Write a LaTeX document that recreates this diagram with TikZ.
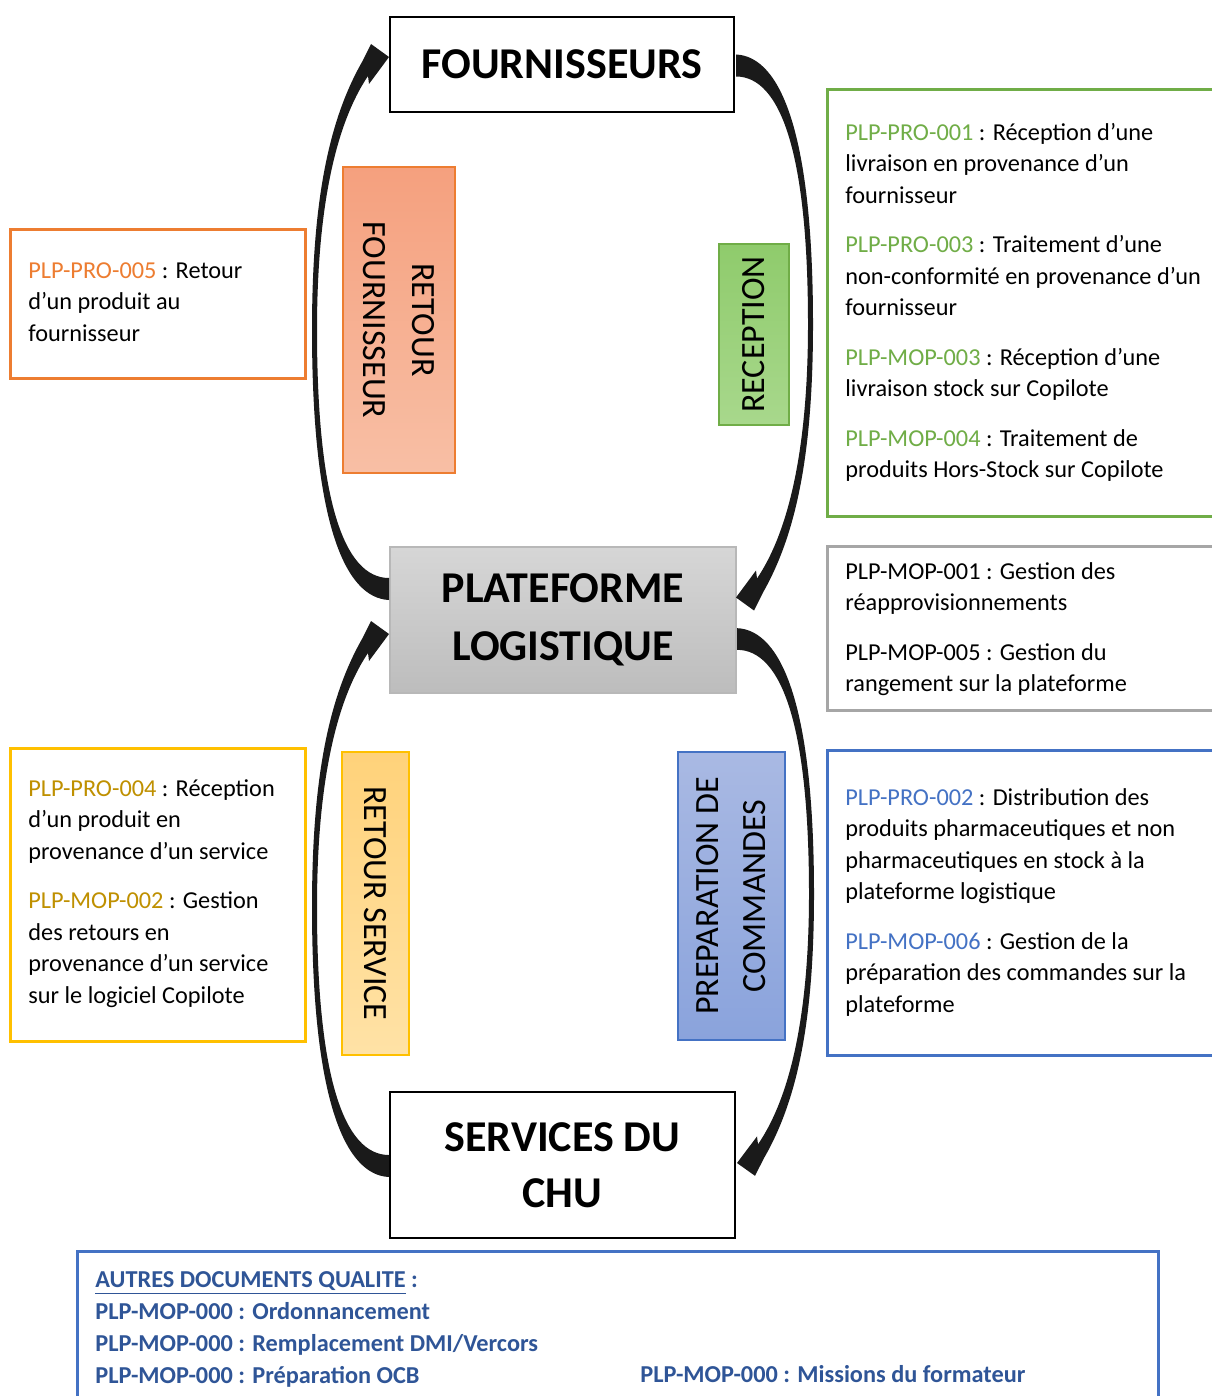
\documentclass[tikz,border=0pt]{standalone}
\usepackage{fontspec}
\setmainfont{Carlito}
\usetikzlibrary{calc}
\definecolor{cor}{HTML}{ED7D31}
\definecolor{cgr}{HTML}{70AD47}
\definecolor{cgy}{HTML}{A6A6A6}
\definecolor{cbl}{HTML}{4472C4}
\definecolor{cye}{HTML}{FFC000}
\definecolor{cyet}{HTML}{BF9000}
\definecolor{cdb}{HTML}{2F5597}
\definecolor{carrow}{HTML}{1A1A1A}
\definecolor{fora}{HTML}{F5A07E}
\definecolor{forb}{HTML}{F8BFA5}
\definecolor{fgra}{HTML}{8FCB6C}
\definecolor{fgrb}{HTML}{A8D88C}
\definecolor{fyea}{HTML}{FFD27A}
\definecolor{fyeb}{HTML}{FFE2A6}
\definecolor{fbla}{HTML}{A9B9E3}
\definecolor{fblb}{HTML}{8AA3DC}
\begin{document}
\begin{tikzpicture}[x=0.5pt,y=-0.5pt,
  box/.style={draw, rectangle, inner sep=0pt},
  titletxt/.style={font=\fontsize{22}{29}\selectfont\bfseries, align=center},
  vlab/.style={font=\fontsize{17}{24.5}\selectfont, align=center, inner sep=0pt},
  doc/.style={font=\fontsize{12.15}{15.75}\selectfont, align=left, anchor=north west, inner sep=0pt},
  docb/.style={font=\fontsize{12.15}{15.9}\selectfont\bfseries, text=cdb, align=left, inner sep=0pt},
  arrowfill/.style={fill=carrow},
  curvarrow/.pic={\fill[arrowfill] (0,10) .. controls (-45,8) and (-77,-70) .. (-77,-260)
     .. controls (-77,-390) and (-60,-470) .. (-27,-528) -- (-18,-546) -- (0,-533) -- (-20,-506) -- (-21,-514)
     .. controls (-54,-465) and (-72,-380) .. (-72,-260)
     .. controls (-72,-90) and (-45,-12) .. (0,-12) -- cycle;}
]
\useasboundingbox (0,0) rectangle (1211,1396);
\fill[white] (0,0) rectangle (1211,1396);

% main boxes
\node[box, line width=1pt, fill=white, minimum width=172pt, minimum height=47.5pt, titletxt] (fourn) at (562,64.5) {FOURNISSEURS};
\node[box, draw=cgy!80, line width=1pt, top color=black!16, bottom color=black!26, minimum width=173pt, minimum height=73pt, titletxt] (plat) at (563,620) {PLATEFORME\\LOGISTIQUE};
\node[box, line width=1pt, fill=white, minimum width=172.5pt, minimum height=73pt, titletxt, font=\fontsize{22}{28}\selectfont\bfseries] (serv) at (562.5,1165) {SERVICES DU\\CHU};

% arrows
\pic at ($(plat.west)+(0,-30)$) {curvarrow};
\pic at ($(serv.west)+(0,2)$) {curvarrow};
\pic[rotate=180] at ($(fourn.east)+(1,0)$) {curvarrow};
\pic[rotate=180, yscale=0.985] at ($(plat.east)+(0,18)$) {curvarrow};

% vertical labels
\node[box, draw=cor, line width=1pt, top color=fora, bottom color=forb, minimum width=56pt, minimum height=153pt] (retf) at (399,320) {};
\node[vlab, rotate=-90] (retft) at (retf.center) {RETOUR\\FOURNISSEUR};

\node[box, draw=cgr, line width=1pt, top color=fgra, bottom color=fgrb, minimum width=35pt, minimum height=90.5pt] (recep) at (754,334.5) {};
\node[vlab, rotate=90] (recept) at (recep.center) {RECEPTION};

\node[box, draw=cye, line width=1pt, top color=fyea, bottom color=fyeb, minimum width=33.5pt, minimum height=151.5pt] (rets) at (375.5,903.5) {};
\node[vlab, rotate=-90] (retst) at (rets.center) {RETOUR SERVICE};

\node[box, draw=cbl, line width=1pt, top color=fbla, bottom color=fblb, minimum width=53.5pt, minimum height=144pt] (prep) at (731.5,896) {};
\node[vlab, rotate=90, font=\fontsize{17}{23.5}\selectfont] (prept) at (prep.center) {PREPARATION DE\\COMMANDES};

% document boxes
\node[box, draw=cor, line width=1.5pt, minimum width=147.5pt, minimum height=74pt] (bor) at (157.5,304) {};
\node[doc] (tor) at (28,256) {\strut\textcolor{cor}{PLP-PRO-005} : Retour\\ d’un produit au\\ fournisseur};

\node[box, draw=cgr, line width=1.5pt, minimum width=199pt, minimum height=213pt] (bgr) at (1026,303) {};
\node[doc] (tgr) at (845,118) {\strut\textcolor{cgr}{PLP-PRO-001} : Réception d’une\\ livraison en provenance d’un\\ fournisseur\\[9pt]
 \textcolor{cgr}{PLP-PRO-003} : Traitement d’une\\ non-conformité en provenance d’un\\ fournisseur\\[9pt]
 \textcolor{cgr}{PLP-MOP-003} : Réception d’une\\ livraison stock sur Copilote\\[9pt]
 \textcolor{cgr}{PLP-MOP-004} : Traitement de\\ produits Hors-Stock sur Copilote};

\node[box, draw=cgy, line width=1.5pt, minimum width=199pt, minimum height=82pt] (bgy) at (1026,628) {};
\node[doc] (tgy) at (845,557) {\strut PLP-MOP-001 : Gestion des\\ réapprovisionnements\\[9pt]
 PLP-MOP-005 : Gestion du\\ rangement sur la plateforme};

\node[box, draw=cbl, line width=1.5pt, minimum width=199pt, minimum height=152.5pt] (bbl) at (1026,902.5) {};
\node[doc] (tbl) at (845,783) {\strut\textcolor{cbl}{PLP-PRO-002} : Distribution des\\ produits pharmaceutiques et non\\ pharmaceutiques en stock à la\\ plateforme logistique\\[9pt]
 \textcolor{cbl}{PLP-MOP-006} : Gestion de la\\ préparation des commandes sur la\\ plateforme};

\node[box, draw=cye, line width=1.5pt, minimum width=147.5pt, minimum height=146.5pt] (bye) at (157.5,894.5) {};
\node[doc] (tye) at (28,774) {\strut\textcolor{cyet}{PLP-PRO-004} : Réception\\ d’un produit en\\ provenance d’un service\\[9pt]
 \textcolor{cyet}{PLP-MOP-002} : Gestion\\ des retours en\\ provenance d’un service\\ sur le logiciel Copilote};

\node[box, draw=cbl, line width=1.5pt, minimum width=540.5pt, minimum height=79.5pt] (bbot) at (617.5,1330.5) {};
\node[docb, anchor=north west] (tbot) at (95,1265) {\strut\underline{AUTRES DOCUMENTS QUALITE} :\\ PLP-MOP-000 : Ordonnancement\\ PLP-MOP-000 : Remplacement DMI/Vercors\\ PLP-MOP-000 : Préparation OCB};
\node[docb, anchor=base west] (tmiss) at (640,1382) {PLP-MOP-000 : Missions du formateur};
\end{tikzpicture}
\end{document}
